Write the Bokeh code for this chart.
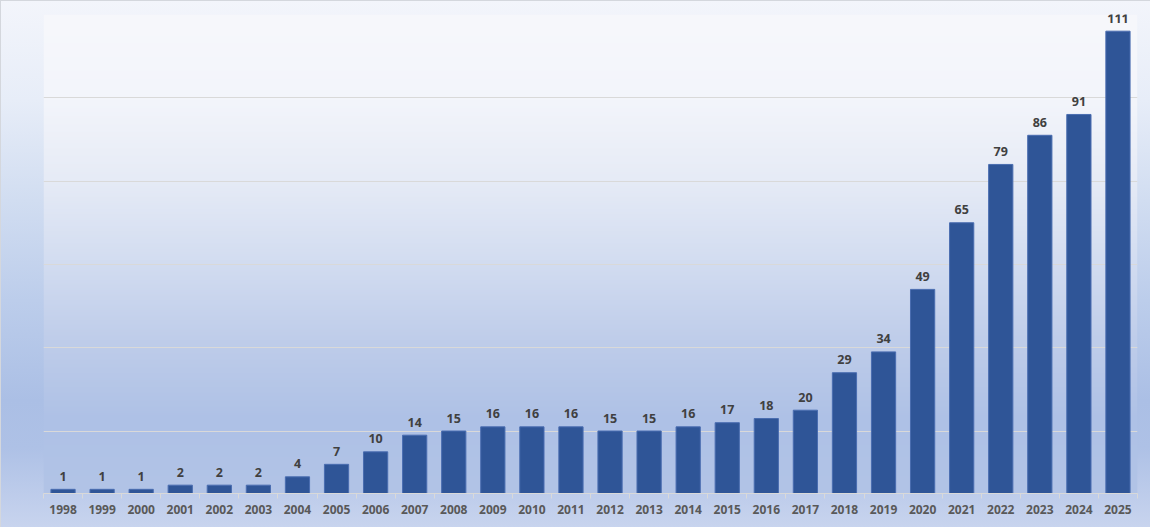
import numpy as np
from bokeh.plotting import figure
from bokeh.models import Range1d, FixedTicker, ColumnDataSource
from bokeh.core.properties import value
from bokeh.embed import file_html
from bokeh.resources import INLINE

# ---- data ----
years = ["1998", "1999", "2000", "2001", "2002", "2003", "2004", "2005", "2006",
         "2007", "2008", "2009", "2010", "2011", "2012", "2013", "2014", "2015",
         "2016", "2017", "2018", "2019", "2020", "2021", "2022", "2023", "2024", "2025"]
counts = [1, 1, 1, 2, 2, 2, 4, 7, 10, 14, 15, 16, 16, 16, 15, 15, 16, 17, 18, 20,
          29, 34, 49, 65, 79, 86, 91, 111]
grid_values = [15, 35, 55, 75, 95, 115]

W, H = 1150, 527
LEFT, RIGHT, TOP, BOTTOM = 43, 13, 14, 34

xs = list(range(len(years)))
src = ColumnDataSource(dict(x=xs, year=years, count=counts,
                            label=[str(c) for c in counts]))

p = figure(width=W, height=H, output_backend="svg", toolbar_location=None,
           x_range=Range1d(-0.5, len(years) - 0.5),
           y_range=Range1d(0, grid_values[-1]),
           min_border_left=LEFT, min_border_right=RIGHT,
           min_border_top=TOP, min_border_bottom=BOTTOM)

# ---- inner plot-area gradient (style only) ----
def hex2rgb(h):
    h = h.lstrip("#")
    return [int(h[i:i + 2], 16) for i in (0, 2, 4)]

inner_stops = [(14, "#f7f8fc"), (100, "#f3f5fb"), (180, "#e6ebf6"), (260, "#d3ddf1"),
               (340, "#bfcdea"), (420, "#aec1e6"), (493, "#b2c4e7")]
n = H - TOP - BOTTOM
pix_y = (H - BOTTOM) - (np.arange(n) + 0.5)
sy = [s[0] for s in inner_stops]
cols = np.array([hex2rgb(s[1]) for s in inner_stops], dtype=float)
img = np.zeros((n, 1), dtype=np.uint32)
view = img.view(dtype=np.uint8).reshape((n, 1, 4))
for k in range(3):
    view[:, 0, k] = np.interp(pix_y, sy, cols[:, k]).astype(np.uint8)
view[:, 0, 3] = 255
p.image_rgba(image=[img], x=-0.5, y=0, dw=len(years), dh=grid_values[-1], level="image")

# ---- bars ----
p.vbar(x="x", top="count", bottom=0, width=0.62, source=src,
       fill_color="#2F5597", line_color="#4a6db0", line_width=1)

# ---- value labels ----
p.text(x="x", y="count", text="label", source=src, text_align="center",
       text_baseline="alphabetic", y_offset=-13,
       text_font=value("Open Sans"), text_font_style="bold",
       text_font_size="12.5px", text_color="#404040")

# ---- grid & axes ----
p.xgrid.visible = False
p.ygrid.ticker = FixedTicker(ticks=grid_values)
p.ygrid.grid_line_color = "#d9d9d9"
p.ygrid.grid_line_width = 1
p.yaxis.visible = False

ax = p.xaxis[0]
ax.ticker = FixedTicker(ticks=xs, minor_ticks=[i - 0.5 for i in range(len(years) + 1)])
ax.major_label_overrides = {i: y for i, y in enumerate(years)}
ax.major_tick_out = 0
ax.major_tick_in = 0
ax.minor_tick_out = 5
ax.minor_tick_in = 0
ax.minor_tick_line_color = "#d9d9d9"
ax.axis_line_color = "#d9d9d9"
ax.major_label_standoff = 6
ax.major_label_text_font = "Open Sans"
ax.major_label_text_font_style = "bold"
ax.major_label_text_font_size = "12px"
ax.major_label_text_color = "#595959"

p.outline_line_color = None
p.background_fill_alpha = 0
p.border_fill_alpha = 0
p.styles = {
    "position": "fixed", "left": "0px", "top": "0px",
    "background": "linear-gradient(to bottom, #f3f5fb 0%, #e7edf8 19%, #d1ddf1 38%, "
                  "#bccdeb 57%, #abbfe5 76%, #aec1e6 85%, #c8d4ee 100%)",
    "box-shadow": "inset 1px 1px 0 #d4d7dd",
}

open("out.html", "w").write(file_html(p, INLINE))
